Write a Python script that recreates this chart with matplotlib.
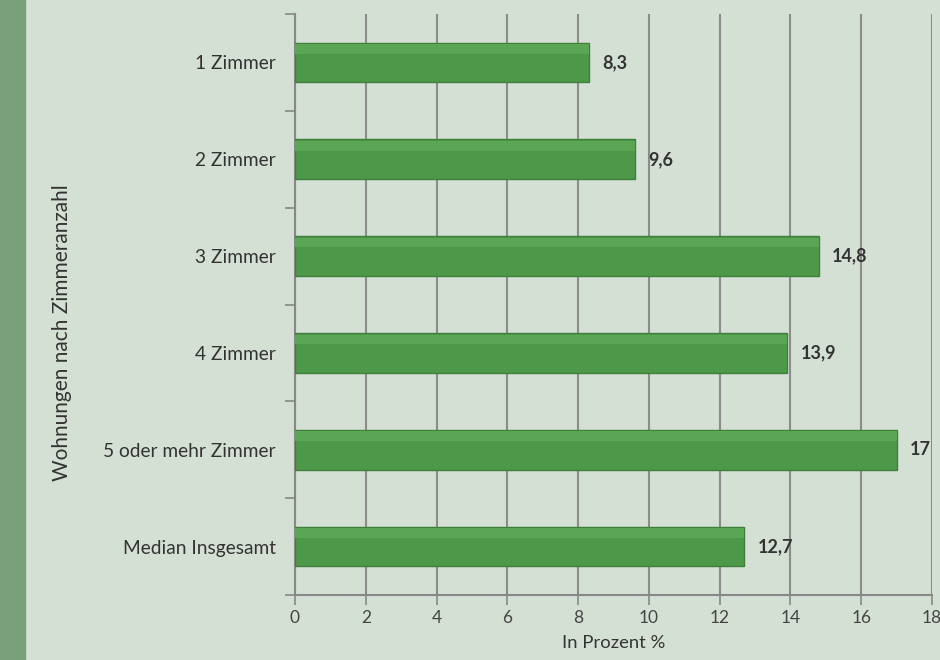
import numpy as np
import matplotlib
matplotlib.use("Agg")
import matplotlib.pyplot as plt

CATEGORIES = ["1 Zimmer", "2 Zimmer", "3 Zimmer", "4 Zimmer",
              "5 oder mehr Zimmer", "Median Insgesamt"]
VALUES = [8.3, 9.6, 14.8, 13.9, 17, 12.7]
VALUE_LABELS = ["8,3", "9,6", "14,8", "13,9", "17", "12,7"]
XTICKS = [0, 2, 4, 6, 8, 10, 12, 14, 16, 18]

BG = "#d5e0d5"
plt.rcParams["font.family"] = ["Lato", "DejaVu Sans"]

fig = plt.figure(figsize=(9.4, 6.6), dpi=100, facecolor=BG)
# dark green strip at the left edge
fig.patches.append(plt.Rectangle((0, 0), 25 / 940, 1, transform=fig.transFigure,
                                 color="#7aa07a", zorder=0))
ax = fig.add_axes([295 / 940, 65 / 660, 637 / 940, 581 / 660])
ax.set_facecolor(BG)

y = np.arange(len(CATEGORIES))
ax.barh(y, VALUES, height=0.41, color="#4e984a", edgecolor="#3f7f3c", lw=1.0, zorder=3)
# subtle lighter top band for the slight 3D look
ax.barh(y - 0.14, VALUES, height=0.1, color="#5aa655", lw=0, zorder=4)

for yi, v, lab in zip(y, VALUES, VALUE_LABELS):
    ax.text(v + 0.38, yi, lab, va="center", ha="left", fontsize=13,
            fontweight="bold", color="#333333", zorder=5)

ax.set_xlim(0, 18)
ax.set_ylim(len(CATEGORIES) - 0.5, -0.5)
ax.set_xticks(XTICKS)
ax.set_xticklabels([str(t) for t in XTICKS], fontsize=12.5, color="#444444")
ax.set_yticks(y)
ax.set_yticklabels(CATEGORIES, fontsize=13.8, color="#333333")
ax.set_yticks(np.arange(len(CATEGORIES) + 1) - 0.5, minor=True)
ax.tick_params(axis="y", which="major", length=0, pad=14)
ax.tick_params(axis="y", which="minor", length=7, color="#888888", width=1.2)
ax.tick_params(axis="x", length=7, color="#888888", width=1.2, pad=4)

ax.grid(axis="x", color="#8c8c8c", lw=1.5, zorder=1)
for s in ["top", "right"]:
    ax.spines[s].set_visible(False)
for s in ["left", "bottom"]:
    ax.spines[s].set_color("#888888")
    ax.spines[s].set_linewidth(1.5)

ax.set_xlabel("In Prozent %", fontsize=13.3, color="#333333", labelpad=6)
fig.text(62 / 940, 1 - 333 / 660, "Wohnungen nach Zimmeranzahl", rotation=90,
         ha="center", va="center", fontsize=15, color="#333333")

fig.savefig("out.png", dpi=100, facecolor=BG)
